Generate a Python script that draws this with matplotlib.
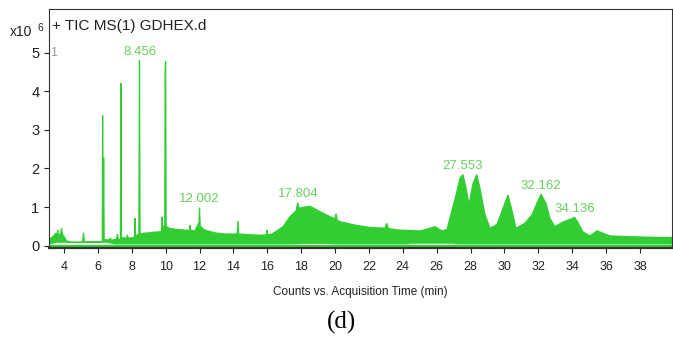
import matplotlib
matplotlib.use("Agg")
import matplotlib.pyplot as plt
import numpy as np
from matplotlib import font_manager

# TIC upper envelope (min, counts x10^6)
t_up = [3.1, 3.2, 3.4, 3.5, 3.6, 3.63, 3.66, 3.8, 3.86, 3.9, 4.05, 4.15, 4.4, 5.1, 5.15, 5.2,
        5.7, 6.2, 6.26, 6.28, 6.31, 6.34, 6.37, 6.6, 6.7, 6.74, 6.78, 7.1, 7.15, 7.2,
        7.33, 7.36, 7.39, 7.6, 7.7, 7.74, 7.78, 8.1, 8.17, 8.19, 8.22, 8.42, 8.456, 8.49,
        8.7, 9.0, 9.4, 9.76, 9.79, 9.83, 9.95, 9.97, 10.0, 10.03, 10.2, 10.6, 11.14, 11.42,
        11.44, 11.47, 11.73, 11.97, 12.0, 12.04, 12.32, 12.91, 13.5, 14.22, 14.27, 14.31,
        14.98, 15.69, 15.95, 15.98, 16.02, 16.28, 16.63, 16.93, 17.34, 17.7, 17.8, 17.87,
        18.23, 18.52, 18.82, 19.11, 19.7, 20.0, 20.06, 20.12, 20.29, 21.18, 22.06, 22.95,
        23.05, 23.15, 23.83, 25.02, 25.61, 25.9, 26.31, 26.61, 26.9, 27.14, 27.38, 27.553,
        27.73, 27.91, 28.14, 28.36, 28.55, 28.85, 29.15, 29.56, 29.86, 30.21, 30.45, 30.68,
        31.21, 31.63, 31.92, 32.162, 32.45, 32.69, 32.98, 33.4, 33.87, 34.136, 34.34, 34.64,
        35.05, 35.46, 35.82, 36.23, 37.41, 38.3, 39.18, 39.9]
v_up = [0.1, 0.18, 0.25, 0.32, 0.3, 0.4, 0.28, 0.3, 0.45, 0.3, 0.2, 0.12, 0.08, 0.08, 0.33, 0.08,
        0.1, 0.1, 0.12, 3.38, 0.3, 2.29, 0.15, 0.15, 0.15, 0.2, 0.14, 0.16, 0.3, 0.16,
        0.15, 4.21, 0.2, 0.2, 0.2, 0.28, 0.2, 0.2, 0.25, 0.71, 0.25, 0.3, 4.81, 0.3,
        0.32, 0.33, 0.35, 0.36, 0.74, 0.5, 0.5, 4.55, 4.78, 0.5, 0.45, 0.42, 0.4, 0.4,
        0.53, 0.4, 0.38, 0.6, 0.98, 0.5, 0.4, 0.33, 0.3, 0.3, 0.64, 0.3,
        0.28, 0.27, 0.28, 0.4, 0.28, 0.3, 0.4, 0.49, 0.75, 0.9, 1.11, 0.97,
        1.0, 1.02, 0.95, 0.88, 0.75, 0.7, 0.83, 0.66, 0.62, 0.53, 0.47, 0.45,
        0.58, 0.44, 0.4, 0.38, 0.45, 0.49, 0.38, 0.42, 0.9, 1.3, 1.75, 1.84,
        1.5, 1.05, 1.6, 1.84, 1.5, 0.8, 0.45, 0.55, 0.9, 1.31, 0.9, 0.45,
        0.58, 0.8, 1.1, 1.33, 1.1, 0.7, 0.49, 0.6, 0.68, 0.73, 0.6, 0.35,
        0.25, 0.38, 0.32, 0.25, 0.23, 0.22, 0.21, 0.21]

# lower envelope of the trace (thin white gap above the baseline)
t_low = [3.1, 3.6, 6.5, 7.0, 17.5, 18.0, 19.5, 20.0, 24.3, 24.4, 27.0, 27.2, 39.9]
v_low = [0.04, 0.09, 0.09, 0.045, 0.045, 0.06, 0.06, 0.045, 0.045, 0.065, 0.065, 0.045, 0.045]

peak_t = [8.456, 12.002, 17.804, 27.553, 32.162, 34.136]
peak_v = [4.81, 0.98, 1.11, 1.84, 1.33, 0.73]
x_ticks = list(range(4, 39, 2))
y_ticks = [0, 1, 2, 3, 4, 5]

names = {f.name for f in font_manager.fontManager.ttflist}
sans = "Liberation Sans Narrow" if "Liberation Sans Narrow" in names else "Liberation Sans"
plt.rcParams["font.family"] = [sans, "DejaVu Sans"]

green = "#32CD32"
label_green = "#66D25A"

fig = plt.figure(figsize=(6.73, 3.38), dpi=100)
ax = fig.add_axes([0.0728, 0.266, 0.9257, 0.707])

ax.fill(np.concatenate([t_up, t_low[::-1]]), np.concatenate([v_up, v_low[::-1]]),
        color=green, lw=0.9, ec=green)
ax.plot([3.1, 39.9], [0, 0], color=green, lw=1.6)

for t, v in zip(peak_t, peak_v):
    ax.text(t, v + 0.06, f"{t:.3f}", color=label_green, fontsize=9.5, ha="center", va="bottom")

ax.set_xlim(3.115, 39.89)
ax.set_ylim(-0.065, 6.13)
ax.set_xticks(x_ticks)
ax.set_yticks(y_ticks)
ax.tick_params(axis="both", direction="out", length=3.5, width=0.8, colors="#222222",
               labelsize=9)
ax.tick_params(axis="x", pad=6)
ax.tick_params(axis="y", labelsize=10.5)
for s in ax.spines.values():
    s.set_color("#333333")
    s.set_linewidth(0.8)
ax.spines["bottom"].set_linewidth(1.6)
ax.set_xlabel("Counts vs. Acquisition Time (min)", fontsize=8.5, color="#222222", labelpad=9)

fig.text(52 / 673, 1 - 26 / 338, "+ TIC MS(1) GDHEX.d", fontsize=11,
         color="#222222", ha="left", va="center")
ax.text(3.2, 5.0, "1", color="#999999", fontsize=9, ha="left", va="center")
fig.text(10 / 673, 1 - 32 / 338, "x10", fontsize=10, color="#222222", ha="left", va="center")
fig.text(37 / 673, 1 - 28 / 338, "6", fontsize=7.5, color="#222222", ha="left", va="center")

fig.text(342 / 673, 1 - 322 / 338, "(d)", fontsize=18, family="Liberation Serif",
         ha="center", va="center")

fig.savefig("out.png", dpi=100)
